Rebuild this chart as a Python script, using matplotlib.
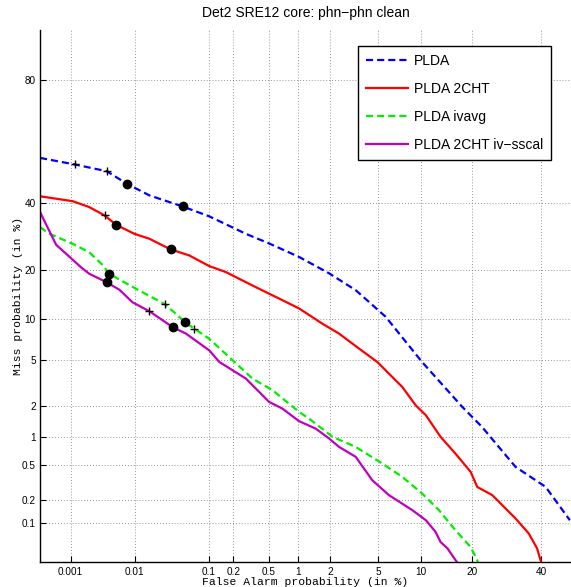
from statistics import NormalDist
import numpy as np
import matplotlib
matplotlib.use('Agg')
import matplotlib.pyplot as plt
from matplotlib.ticker import FixedLocator, FixedFormatter, NullLocator

# DET curves, all values in percent
plda_fa = [0.0003, 0.00116, 0.0038, 0.0076, 0.0163, 0.0465, 0.102, 0.279, 0.504, 1.02,
           1.96, 3.32, 4.10, 5.70, 10.2, 17.7, 22.4, 31.8, 41.4, 49.6]
plda_miss = [55.9, 53.6, 51.2, 46.8, 42.7, 38.9, 35.6, 30.0, 27.1, 23.3,
             19.1, 15.3, 13.3, 10.4, 4.85, 1.98, 1.27, 0.481, 0.284, 0.110]

cht_fa = [0.0003, 0.00108, 0.0020, 0.0035, 0.0053, 0.0099, 0.0163, 0.032, 0.057, 0.102,
          0.163, 0.331, 0.694, 1.02, 1.70, 2.40, 3.54, 4.93, 7.51, 9.27,
          10.8, 13.3, 16.2, 19.6, 21.2, 25.1, 31.8, 35.9, 38.6, 39.9]
cht_miss = [42.4, 40.7, 38.7, 35.9, 32.8, 30.0, 28.5, 25.4, 23.7, 20.9,
            19.4, 16.3, 13.3, 11.8, 9.34, 7.95, 6.16, 4.85, 3.00, 2.05,
            1.65, 1.01, 0.675, 0.423, 0.283, 0.226, 0.116, 0.0741, 0.0465, 0.0301]

ivavg_fa = [0.0003, 0.00044, 0.00108, 0.0020, 0.0033, 0.0041, 0.0093, 0.0272, 0.0504, 0.0661,
            0.102, 0.196, 0.331, 0.546, 1.02, 1.28, 2.10, 3.32, 5.38, 7.51,
            10.2, 13.0, 16.2, 19.6, 21.4]
ivavg_miss = [32.1, 30.0, 27.0, 24.6, 21.1, 19.0, 16.0, 12.5, 9.54, 8.62,
              7.30, 5.00, 3.54, 2.81, 1.78, 1.53, 1.01, 0.793, 0.524, 0.371,
              0.237, 0.148, 0.0818, 0.0485, 0.0301]

sscal_fa = [0.0003, 0.00057, 0.00096, 0.0015, 0.0020, 0.0038, 0.0059, 0.0093, 0.0163, 0.0342,
            0.0515, 0.102, 0.136, 0.196, 0.279, 0.504, 0.694, 1.02, 1.48, 1.96,
            2.40, 3.32, 4.51, 6.03, 8.79, 10.8, 12.4, 13.3, 14.6, 16.5]
sscal_miss = [37.0, 26.7, 23.3, 20.5, 19.0, 17.0, 15.4, 12.9, 11.3, 8.84,
              7.95, 5.98, 4.85, 4.15, 3.54, 2.20, 1.91, 1.45, 1.22, 0.970,
              0.793, 0.621, 0.339, 0.226, 0.148, 0.110, 0.0777, 0.0568, 0.0465, 0.0301]

# operating points: min DCF (dots) and actual DCF (crosses)
plda_dot_fa, plda_dot_miss = [0.0076, 0.0465], [46.8, 38.9]
plda_plus_fa, plda_plus_miss = [0.00116, 0.0038], [53.6, 51.2]
cht_dot_fa, cht_dot_miss = [0.0053, 0.032], [32.8, 25.4]
cht_plus_fa, cht_plus_miss = [0.0035], [35.9]
ivavg_dot_fa, ivavg_dot_miss = [0.0041, 0.0504], [19.0, 9.54]
ivavg_plus_fa, ivavg_plus_miss = [0.0272, 0.0661], [12.5, 8.62]
sscal_dot_fa, sscal_dot_miss = [0.0038, 0.0342], [17.0, 8.84]
sscal_plus_fa, sscal_plus_miss = [0.0163], [11.3]

x_ticks = [0.001, 0.01, 0.1, 0.2, 0.5, 1, 2, 5, 10, 20, 40]
x_labels = ['0.001', '0.01', '0.1', '0.2', '0.5', '1', '2', '5', '10', '20', '40']
y_ticks = [0.1, 0.2, 0.5, 1, 2, 5, 10, 20, 40, 80]
y_labels = ['0.1', '0.2', '0.5', '1', '2', '5', '10', '20', '40', '80']

_nd = NormalDist()
_ppf = np.vectorize(lambda p: _nd.inv_cdf(min(max(p / 100.0, 1e-12), 1 - 1e-12)),
                    otypes=[float])
_cdf = np.vectorize(lambda z: 100.0 * _nd.cdf(z), otypes=[float])


def probit(p):
    return _ppf(np.asarray(p, dtype=float))


def iprobit(z):
    return _cdf(np.asarray(z, dtype=float))


sans = 'Liberation Sans'
mono = 'Liberation Mono'

fig = plt.figure(figsize=(5.71, 5.87), dpi=100)
ax = fig.add_axes([0.0701, 0.0426, 0.930, 0.9063])
ax.set_xscale('function', functions=(probit, iprobit))
ax.set_yscale('function', functions=(probit, iprobit))

dash = (0, (3.2, 1.8))
ax.plot(plda_fa, plda_miss, color='#0000ff', lw=1.6, ls=dash, label='PLDA')
ax.plot(cht_fa, cht_miss, color='#ff0000', lw=1.6, label='PLDA 2CHT')
ax.plot(ivavg_fa, ivavg_miss, color='#00ee00', lw=1.6, ls=dash, label='PLDA ivavg')
ax.plot(sscal_fa, sscal_miss, color='#c000c0', lw=1.6, label='PLDA 2CHT iv\u2212sscal')

for fa, miss in [(plda_dot_fa, plda_dot_miss), (cht_dot_fa, cht_dot_miss),
                 (ivavg_dot_fa, ivavg_dot_miss), (sscal_dot_fa, sscal_dot_miss)]:
    ax.plot(fa, miss, 'o', color='k', ms=6, zorder=5)
for fa, miss in [(plda_plus_fa, plda_plus_miss), (cht_plus_fa, cht_plus_miss),
                 (ivavg_plus_fa, ivavg_plus_miss), (sscal_plus_fa, sscal_plus_miss)]:
    ax.plot(fa, miss, '+', color='k', ms=6, mew=1.0, zorder=5)

ax.set_xlim(0.0003, 50)
ax.set_ylim(0.03, 90)

ax.xaxis.set_major_locator(FixedLocator(x_ticks))
ax.xaxis.set_major_formatter(FixedFormatter(x_labels))
ax.yaxis.set_major_locator(FixedLocator(y_ticks))
ax.yaxis.set_major_formatter(FixedFormatter(y_labels))
ax.xaxis.set_minor_locator(NullLocator())
ax.yaxis.set_minor_locator(NullLocator())

ax.grid(True, color='0.45', ls=(0, (1, 2.5)), lw=0.6)
ax.tick_params(direction='in', length=4, width=0.8, labelsize=7.2)
ax.tick_params(axis='x', pad=3.8)
ax.tick_params(axis='y', pad=3.0)
for lab in ax.get_xticklabels() + ax.get_yticklabels():
    lab.set_fontfamily(sans)

ax.spines['top'].set_visible(False)
ax.spines['right'].set_visible(False)
ax.spines['left'].set_linewidth(1.0)
ax.spines['bottom'].set_linewidth(1.0)

ax.set_title('Det2 SRE12 core: phn\u2212phn clean', fontfamily=sans, fontsize=10, pad=9)
ax.set_xlabel('False Alarm probability (in %)', fontfamily=mono, fontsize=8.2, labelpad=0)
ax.set_ylabel('Miss probability (in %)', fontfamily=mono, fontsize=8.2, labelpad=-0.5)

leg = ax.legend(loc='upper left', bbox_to_anchor=(358 / 571, 1 - 46 / 587),
                bbox_transform=fig.transFigure, borderaxespad=0,
                prop={'family': sans, 'size': 10}, handlelength=3.0,
                handletextpad=0.4, labelspacing=1.0, borderpad=0.6,
                fancybox=False, framealpha=1.0, edgecolor='k')
leg.get_frame().set_linewidth(1.0)

fig.savefig('out.png', dpi=100)
